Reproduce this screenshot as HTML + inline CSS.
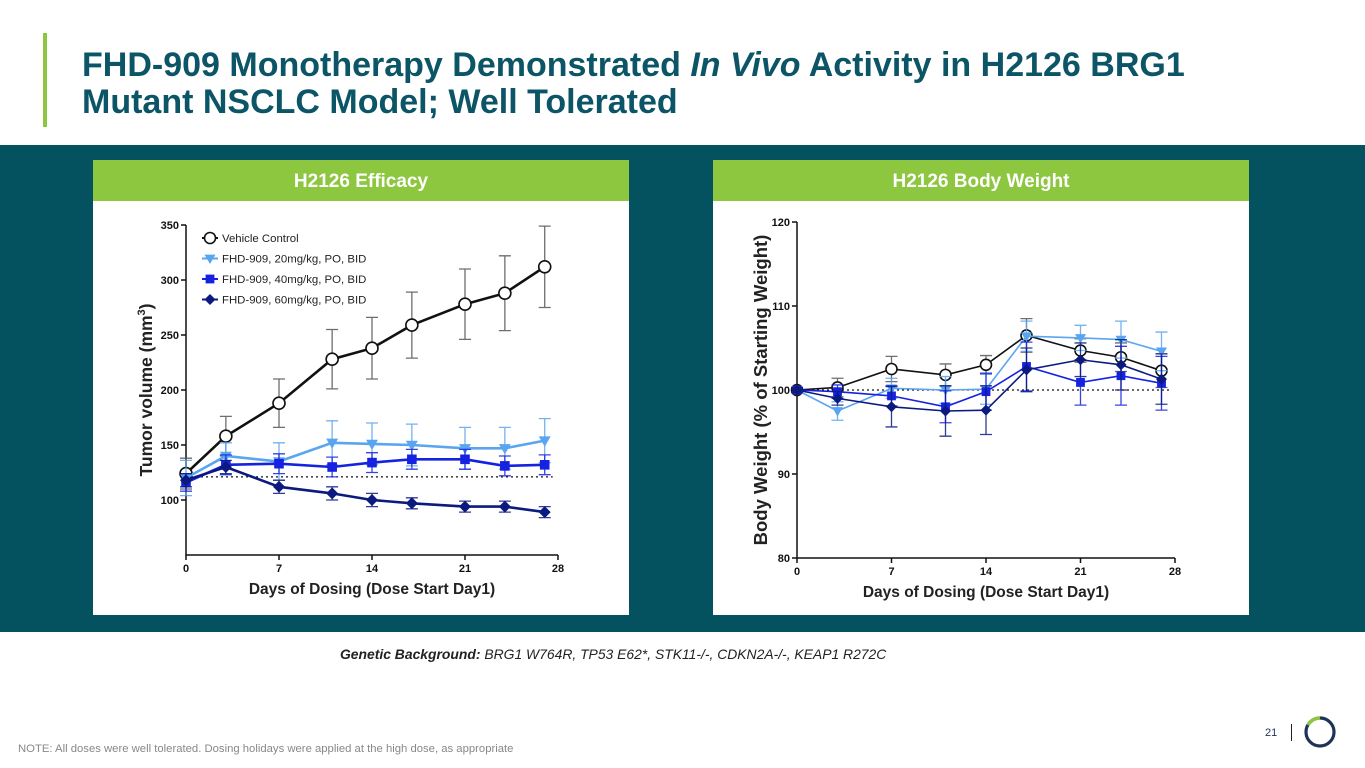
<!DOCTYPE html>
<html><head><meta charset="utf-8">
<style>
body{margin:0;width:1365px;height:768px;overflow:hidden;background:#fff;font-family:"Liberation Sans",Arial,sans-serif;position:relative}
.abs{position:absolute}
</style></head>
<body>
<div class="abs" style="left:43px;top:33px;width:4px;height:94px;background:#8dc63f"></div>
<div class="abs" style="left:82px;top:47px;font-size:34px;font-weight:bold;color:#0b5566;line-height:37px;white-space:nowrap">FHD-909 Monotherapy Demonstrated <i>In Vivo</i> Activity in H2126 BRG1<br>Mutant NSCLC Model; Well Tolerated</div>
<div class="abs" style="left:0;top:145px;width:1365px;height:487px;background:#04525f"></div>
<div class="abs" style="left:93px;top:160px;width:536px;height:455px;background:#fff"></div>
<div class="abs" style="left:93px;top:160px;width:536px;height:41px;background:#8dc63f;color:#fff;font-weight:bold;font-size:19px;text-align:center;line-height:43px">H2126 Efficacy</div>
<div class="abs" style="left:713px;top:160px;width:536px;height:455px;background:#fff"></div>
<div class="abs" style="left:713px;top:160px;width:536px;height:41px;background:#8dc63f;color:#fff;font-weight:bold;font-size:19px;text-align:center;line-height:43px">H2126 Body Weight</div>
<div class="abs" style="left:340px;top:646px;font-size:13.9px;font-style:italic;color:#222;white-space:nowrap"><b>Genetic Background:</b> BRG1 W764R, TP53 E62*, STK11-/-, CDKN2A-/-, KEAP1 R272C</div>
<div class="abs" style="left:18px;top:743px;font-size:11.3px;color:#888;white-space:nowrap">NOTE: All doses were well tolerated. Dosing holidays were applied at the high dose, as appropriate</div>
<div class="abs" style="left:1265px;top:727px;font-size:11px;color:#1f3358">21</div>
<div class="abs" style="left:1291px;top:724px;width:1px;height:17px;background:#222"></div>
<svg class="abs" style="left:1303px;top:715px" width="34" height="34" viewBox="0 0 34 34">
<circle cx="17" cy="17" r="14" fill="none" stroke="#1f3358" stroke-width="3.2"/>
<path d="M17 3 A14 14 0 0 0 4.9 10" fill="none" stroke="#8dc63f" stroke-width="3.4"/>
</svg>
<svg id="chart" class="abs" style="left:0;top:0" width="1365" height="768"></svg>
<script>
const days=[0,3,7,11,14,17,21,24,27];
const xTicks=[0,7,14,21,28];
const seriesNames=["Vehicle Control","FHD-909, 20mg/kg, PO, BID","FHD-909, 40mg/kg, PO, BID","FHD-909, 60mg/kg, PO, BID"];
const tumorVehicle=[124,158,188,228,238,259,278,288,312];
const tumorVehicleErr=[14,18,22,27,28,30,32,34,37];
const tumor20=[120,140,135,152,151,150,147,147,154];
const tumor20Err=[16,12,17,20,19,19,19,19,20];
const tumor40=[116,132,133,130,134,137,137,131,132];
const tumor40Err=[8,9,9,9,9,9,9,9,9];
const tumor60=[118,130,112,106,100,97,94,94,89];
const tumor60Err=[6,6,6,6,6,5,5,5,5];
const tumorTicks=[100,150,200,250,300,350];
const tumorBaseline=121;
const bwVehicle=[100,100.3,102.5,101.8,103,106.5,104.7,103.9,102.3];
const bwVehicleErr=[0.3,1.1,1.5,1.3,1.1,2.0,1.4,1.7,2.0];
const bw20=[100,97.5,100.2,100,100.1,106.4,106.2,106,104.6];
const bw20Err=[0.3,1.1,1.2,1.6,1.8,1.8,1.5,2.2,2.3];
const bw40=[100,99.8,99.3,98,99.8,102.8,100.9,101.7,100.8];
const bw40Err=[0.3,0.8,1.2,1.9,2.2,2.9,2.7,3.5,3.2];
const bw60=[100,99,98,97.5,97.6,102.4,103.6,103,101.3];
const bw60Err=[0.3,0.8,2.4,3.0,2.9,2.6,2.0,3.0,3.0];
const bwTicks=[80,90,100,110,120];
const bwBaseline=100;

const NS="http://www.w3.org/2000/svg";
const svg=document.getElementById('chart');
function mk(tag,attrs,parent){const e=document.createElementNS(NS,tag);for(const k in attrs)e.setAttribute(k,attrs[k]);(parent||svg).appendChild(e);return e;}
const colors=["#111","#5aa5f0","#1522e0","#0c1a80"];
const markers=["circle","tri","square","diamond"];

function marker(g,type,x,y,c,s){
  let m;
  if(type==="circle"){m=mk('circle',{cx:x,cy:y,r:s,fill:"#fff",stroke:c,'stroke-width':1.6},g);}
  else if(type==="tri"){m=mk('polygon',{points:`${x-s},${y-s*0.7} ${x+s},${y-s*0.7} ${x},${y+s}`,fill:c},g);}
  else if(type==="square"){m=mk('rect',{x:x-s*0.8,y:y-s*0.8,width:s*1.6,height:s*1.6,fill:c},g);}
  else {m=mk('polygon',{points:`${x},${y-s} ${x+s},${y} ${x},${y+s} ${x-s},${y}`,fill:c},g);}
  
  
}

function drawChart(o){
  const g=mk('g',{});
  
  
  const X=v=>o.x0+(v-0)/28*(o.x1-o.x0);
  const Y=v=>o.yb-(v-o.ymin)/(o.ymax-o.ymin)*(o.yb-o.yt);
  const ax=mk('path',{d:`M${o.x0} ${o.yt} V${o.yb} H${o.x1}`,fill:"none",stroke:"#111",'stroke-width':1.5},g);
  
  
  o.yTicks.forEach(t=>{
    mk('line',{x1:o.x0-5,x2:o.x0,y1:Y(t),y2:Y(t),stroke:"#111",'stroke-width':1.5},g);
    const tx=mk('text',{x:o.x0-7,y:Y(t)+4,'text-anchor':'end','font-size':11,'font-weight':'bold',fill:'#111'},g);
    tx.textContent=t;
    
    
  });
  xTicks.forEach(t=>{
    mk('line',{x1:X(t),x2:X(t),y1:o.yb,y2:o.yb+5,stroke:"#111",'stroke-width':1.5},g);
    const tx=mk('text',{x:X(t),y:o.yb+17,'text-anchor':'middle','font-size':11,'font-weight':'bold',fill:'#111'},g);
    tx.textContent=t;
    
    
  });
  const bl=mk('line',{x1:o.x0,x2:X(27)+8,y1:Y(o.base),y2:Y(o.base),stroke:"#111",'stroke-width':1.2,'stroke-dasharray':'2,3'},g);
  
  
  const xt=mk('text',{x:(o.x0+o.x1)/2,y:o.yb+39,'text-anchor':'middle','font-size':15.5,'font-weight':'bold',fill:'#222'},g);
  xt.textContent="Days of Dosing (Dose Start Day1)";
  
  
  const yt=mk('text',{transform:`translate(${o.ytx},${(o.yt+o.yb)/2}) rotate(-90)`,'text-anchor':'middle','font-size':o.yfs,'font-weight':'bold',fill:'#222'},g);
  yt.innerHTML=o.ytitle;
  
  
  o.series.forEach((s,i)=>{
    const sg=mk('g',{},g);
    
    
    const ec=i===0?"#555":colors[i];
    days.forEach((d,j)=>{
      const x=X(d),lo=Y(s[j]-o.errs[i][j]),hi=Y(s[j]+o.errs[i][j]);
      mk('path',{d:`M${x} ${lo} V${hi} M${x-6} ${lo} H${x+6} M${x-6} ${hi} H${x+6}`,stroke:ec,'stroke-width':1.3,fill:'none',opacity:0.85},sg);
    });
    const ln=mk('polyline',{points:days.map((d,j)=>X(d)+','+Y(s[j])).join(' '),fill:'none',stroke:colors[i],'stroke-width':o.lw},sg);
    
    
    days.forEach((d,j)=>marker(sg,markers[i],X(d),Y(s[j]),colors[i],o.ms));
  });
  return {X,Y,g};
}

const left=drawChart({name:'tumor-volume-chart',x0:186,x1:558,yt:225,yb:555,ymin:50,ymax:350,yTicks:tumorTicks,base:tumorBaseline,
  series:[tumorVehicle,tumor20,tumor40,tumor60],errs:[tumorVehicleErr,tumor20Err,tumor40Err,tumor60Err],
  ytitle:'Tumor volume (mm<tspan dy="-7" font-size="11">3</tspan><tspan dy="7">)</tspan>',ytx:152,yfs:17.5,lw:2.6,ms:6});
const right=drawChart({name:'body-weight-chart',x0:797,x1:1175,yt:222,yb:558,ymin:80,ymax:120,yTicks:bwTicks,base:bwBaseline,
  series:[bwVehicle,bw20,bw40,bw60],errs:[bwVehicleErr,bw20Err,bw40Err,bw60Err],
  ytitle:'Body Weight (% of Starting Weight)',ytx:767,yfs:18.5,lw:1.6,ms:5.5});

const leg=mk('g',{});


seriesNames.forEach((n,i)=>{
  const y=238+i*20.5;
  const eg=mk('g',{},leg);
  
  
  mk('line',{x1:202,x2:218,y1:y,y2:y,stroke:colors[i],'stroke-width':2},eg);
  marker(eg,markers[i],210,y,colors[i],5.5);
  const t=mk('text',{x:222,y:y+4,'font-size':11.4,fill:'#222'},eg);
  t.textContent=n;
});
</script>
</body></html>
